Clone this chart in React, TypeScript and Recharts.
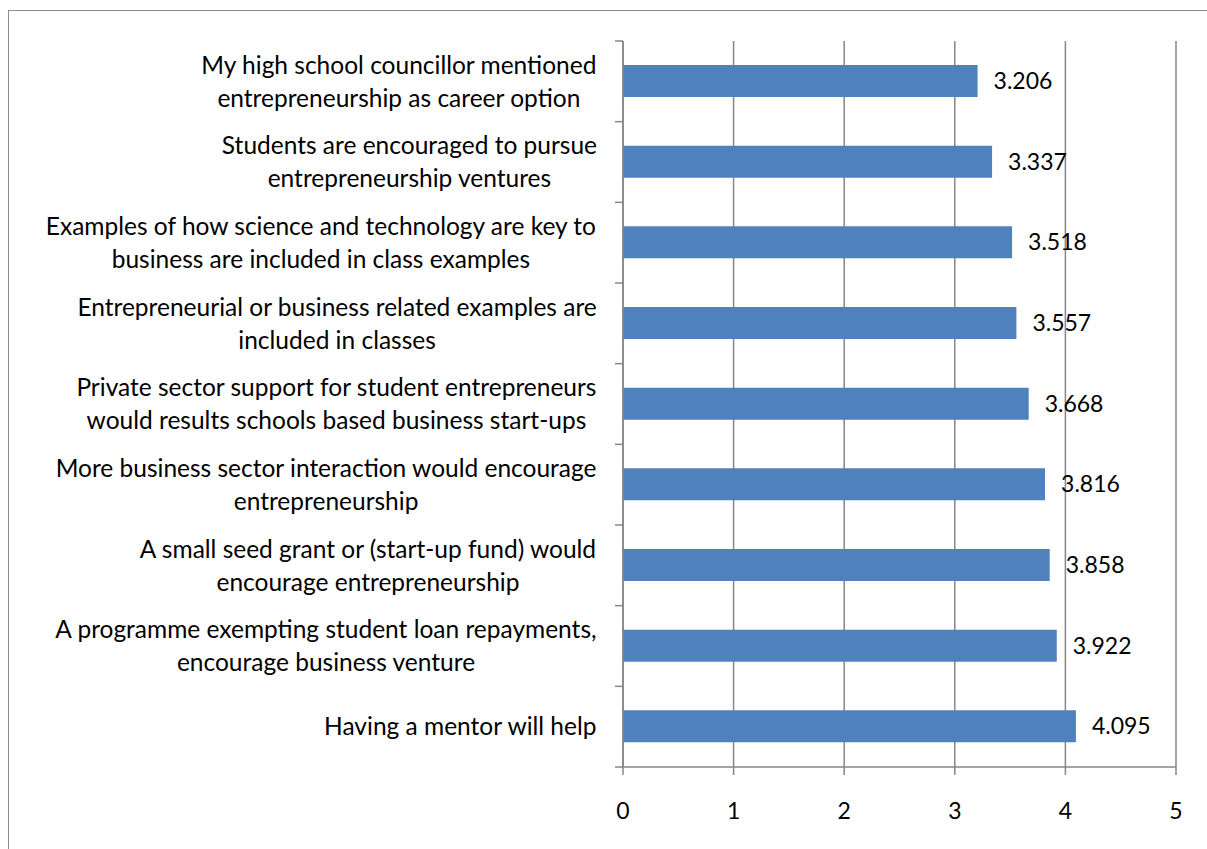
import React from 'react';
import { BarChart, Bar, XAxis, YAxis, CartesianGrid, LabelList } from 'recharts';

// category labels, top to bottom ("\n" marks the line break used in the original)
const categories = [
  'My high school councillor mentioned\nentrepreneurship as career option',
  'Students are encouraged to pursue\nentrepreneurship ventures',
  'Examples of how science and technology are key to\nbusiness are included in class examples',
  'Entrepreneurial or business related examples are\nincluded in classes',
  'Private sector support for student entrepreneurs\nwould results schools based business start-ups',
  'More business sector interaction would encourage\nentrepreneurship',
  'A small seed grant or (start-up fund) would\nencourage entrepreneurship',
  'A programme exempting student loan repayments,\nencourage business venture',
  'Having a mentor will help',
];

const meanScores = [3.206, 3.337, 3.518, 3.557, 3.668, 3.816, 3.858, 3.922, 4.095];

const xTicks = [0, 1, 2, 3, 4, 5];

const data = categories.map((name, i) => ({ name, value: meanScores[i] }));

const FONT = 'Lato, "Open Sans", sans-serif';
const FONT_SIZE = 24.5;
const NUM_SIZE = 23;
const LINE_H = 33;
const GRID = '#868686';
const BAR = '#4F81BD';

const WIDTH = 1198;
const HEIGHT = 838;
const MARGIN = { top: 30, right: 31, bottom: 42, left: 0 };
const X_AXIS_H = 40;
const Y_AXIS_W = 614;
const BAND = (HEIGHT - MARGIN.top - MARGIN.bottom - X_AXIS_H) / categories.length;

let ctx: CanvasRenderingContext2D | null = null;
function textWidth(s: string) {
  if (!ctx) ctx = document.createElement('canvas').getContext('2d');
  if (!ctx) return s.length * FONT_SIZE * 0.5;
  ctx.font = `${FONT_SIZE}px Lato`;
  return ctx.measureText(s).width;
}

function CategoryTick(props: any) {
  const { x, y, payload, index } = props;
  const lines = String(payload.value).split('\n');
  const maxW = Math.max(...lines.map(textWidth));
  const cx = x - maxW / 2;
  const top = -((lines.length - 1) * LINE_H) / 2;
  const axisX = x + 26;
  return (
    <g>
      <text textAnchor="middle" fontFamily={FONT} fontSize={FONT_SIZE} fill="#000">
        {lines.map((l, i) => (
          <tspan key={i} x={cx} y={y + top + i * LINE_H} dy="0.36em">
            {l}
          </tspan>
        ))}
      </text>
      <line x1={axisX - 8} x2={axisX} y1={y - BAND / 2} y2={y - BAND / 2} stroke={GRID} strokeWidth={1.5} />
      {index === categories.length - 1 && (
        <line x1={axisX - 8} x2={axisX} y1={y + BAND / 2} y2={y + BAND / 2} stroke={GRID} strokeWidth={1.5} />
      )}
    </g>
  );
}

export default function App() {
  return (
    <div
      style={{
        position: 'fixed',
        left: 8,
        top: 10,
        borderLeft: '1px solid #8c8c8c',
        borderTop: '1px solid #8c8c8c',
        width: WIDTH,
        height: HEIGHT,
        background: '#fff',
      }}
    >
      <BarChart width={WIDTH} height={HEIGHT} data={data} layout="vertical" margin={MARGIN}>
        <CartesianGrid horizontal={false} stroke={GRID} strokeWidth={1.5} />
        <XAxis
          type="number"
          domain={[0, 5]}
          ticks={xTicks}
          height={X_AXIS_H}
          tickSize={8}
          tickMargin={28}
          stroke={GRID}
          strokeWidth={1.5}
          tick={{ fill: '#000', fontSize: NUM_SIZE, fontFamily: FONT }}
        />
        <YAxis
          type="category"
          dataKey="name"
          width={Y_AXIS_W}
          tickLine={false}
          tickSize={0}
          tickMargin={26}
          stroke={GRID}
          strokeWidth={1.5}
          interval={0}
          tick={<CategoryTick />}
        />
        <Bar dataKey="value" fill={BAR} barSize={32} isAnimationActive={false}>
          <LabelList
            dataKey="value"
            position="right"
            offset={16}
            fill="#000"
            fontSize={NUM_SIZE}
            fontFamily={FONT}
            formatter={(v: any) => Number(v).toFixed(3)}
          />
        </Bar>
      </BarChart>
    </div>
  );
}
